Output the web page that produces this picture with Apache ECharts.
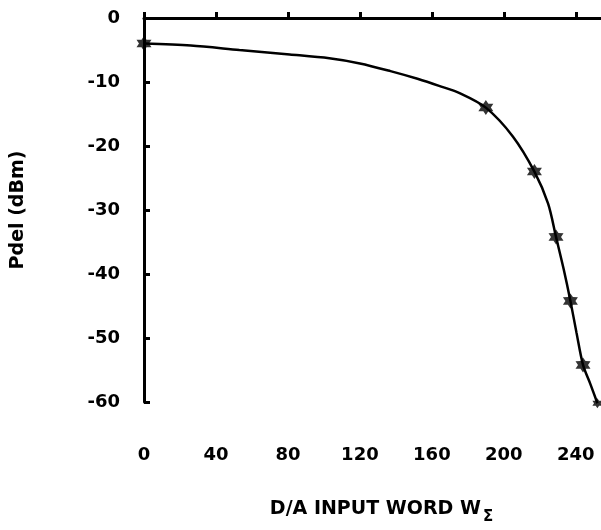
<!DOCTYPE html>
<html>
<head>
<meta charset="utf-8">
<script src="https://cdn.jsdelivr.net/npm/echarts@6/dist/echarts.min.js"></script>
<style>html,body{margin:0;padding:0;background:#fff}#c{width:601px;height:530px}</style>
</head>
<body>
<div id="c"></div>
<script>
// Curve (including unmarked points along the drawn curve)
var curveX = [0, 26, 53, 81, 103, 120, 137, 152, 164, 176, 190, 205, 217, 224.6, 229, 233.3, 237, 240.4, 244, 248.1, 252];
var curveY = [-4, -4.3, -5, -5.7, -6.3, -7.1, -8.3, -9.5, -10.6, -11.8, -14, -18.5, -24, -29, -34.2, -39.3, -44.2, -49.2, -54.2, -57.2, -60.2];
// Marked (asterisk) measurement points
var markX = [0, 190, 217, 229, 237, 244, 252];
var markY = [-4, -14, -24, -34.2, -44.2, -54.2, -60.2];
var xTicks = [0, 40, 80, 120, 160, 200, 240];
var yTicks = [0, -10, -20, -30, -40, -50, -60];
var xTitle = 'D/A INPUT WORD W';
var xTitleSub = 'Σ';
var yTitle = 'Pdel (dBm)';

var curve = curveX.map(function (x, i) { return [x, curveY[i]]; });
var marks = markX.map(function (x, i) { return [x, markY[i]]; });
var star = 'path://M50,0 L64.5,24.9 L93.3,25 L79,50 L93.3,75 L64.5,75.1 L50,100 L35.5,75.1 L6.7,75 L21,50 L6.7,25 L35.5,24.9 Z';
var font = 'DejaVu Sans';

var chart = echarts.init(document.getElementById('c'), null, {renderer: 'canvas'});
chart.setOption({
  animation: false,
  backgroundColor: '#fff',
  grid: {left: 144, right: 0, top: 18, bottom: 122, containLabel: false},
  xAxis: {
    type: 'value', min: 0, max: 254, interval: 40,
    name: xTitle + '{s|' + xTitleSub + '}',
    nameLocation: 'middle', nameGap: 92,
    nameTextStyle: {fontFamily: font, fontWeight: 'bold', fontSize: 19, color: '#000', padding: [0, 0, 0, 18],
      rich: {s: {fontFamily: font, fontWeight: 'bold', fontSize: 15, color: '#000', verticalAlign: 'top', padding: [16, 0, 0, 2]}}},
    axisLine: {lineStyle: {color: '#000', width: 3}},
    axisTick: {inside: true, length: 6, lineStyle: {color: '#000', width: 3}},
    axisLabel: {margin: 44, fontFamily: font, fontWeight: 'bold', fontSize: 18, color: '#000', showMaxLabel: false,
      formatter: function (v) { return xTicks.indexOf(v) >= 0 ? String(v) : ''; }},
    splitLine: {show: false}
  },
  yAxis: {
    type: 'value', min: -60, max: 0, interval: 10,
    name: yTitle, nameLocation: 'middle', nameGap: 116, nameRotate: 90,
    nameTextStyle: {fontFamily: font, fontWeight: 'bold', fontSize: 19, color: '#000'},
    axisLine: {lineStyle: {color: '#000', width: 3}},
    axisTick: {inside: true, length: 6, lineStyle: {color: '#000', width: 3}},
    axisLabel: {margin: 24, fontFamily: font, fontWeight: 'bold', fontSize: 18, color: '#000',
      formatter: function (v) { return yTicks.indexOf(v) >= 0 ? String(v) : ''; }},
    splitLine: {show: false}
  },
  series: [
    {type: 'line', data: curve, smooth: 0.3, showSymbol: false, symbol: 'none',
     lineStyle: {color: '#000', width: 2.5}, clip: false, z: 3},
    {type: 'scatter', data: marks, symbol: star,
     symbolSize: function (v, p) { return p.dataIndex === markX.length - 1 ? 10 : 15; },
     itemStyle: {color: '#000'}, clip: false, z: 4}
  ]
});
</script>
</body>
</html>
